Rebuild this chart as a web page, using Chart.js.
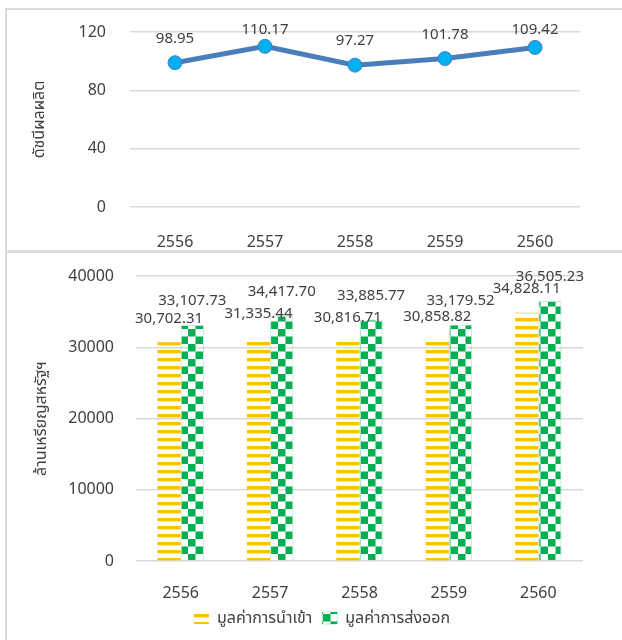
<!DOCTYPE html>
<html>
<head>
<meta charset="utf-8">
<script src="https://cdn.jsdelivr.net/npm/chart.js@4.4.1/dist/chart.umd.min.js"></script>
<style>
  html,body{margin:0;padding:0;background:#fff;width:622px;height:640px;overflow:hidden;}
  .frame{position:absolute;left:5px;top:8px;width:640px;height:660px;border-left:2px solid #d9d9d9;border-top:2px solid #d9d9d9;}
  .sep{position:absolute;left:5px;top:250px;width:640px;height:3px;background:#dcdcdc;}
  .box{position:absolute;left:8px;width:614px;}
  #top{top:10px;height:240px;}
  #bot{top:254px;height:386px;}
</style>
</head>
<body>
<div class="frame"></div>
<div class="sep"></div>
<div class="box" id="top"><canvas id="c1"></canvas></div>
<div class="box" id="bot"><canvas id="c2"></canvas></div>
<script>
const years = ['2556','2557','2558','2559','2560'];
const indexValues = [98.95, 110.17, 97.27, 101.78, 109.42];
const indexTicks = [0, 40, 80, 120];
const importValues = [30702.31, 31335.44, 30816.71, 30858.82, 34828.11];
const exportValues = [33107.73, 34417.70, 33885.77, 33179.52, 36505.23];
const tradeTicks = [0, 10000, 20000, 30000, 40000];

const FONT = "'Noto Sans', 'Noto Sans Thai', Tahoma, sans-serif";
const GRID = '#d9d9d9';
const TXT = '#404040';
const CLEAR = 'rgba(0,0,0,0)';

function stripes(){
  const c = document.createElement('canvas');
  c.width = 8; c.height = 8;
  const g = c.getContext('2d');
  g.fillStyle = '#FFC000';
  g.fillRect(0, 0, 8, 3);
  g.fillStyle = 'rgba(255,192,0,0.35)';
  g.fillRect(0, 3, 8, 1);
  return g.createPattern(c, 'repeat');
}
function checker(){
  const c = document.createElement('canvas');
  c.width = 15; c.height = 15;
  const g = c.getContext('2d');
  g.fillStyle = '#00B050';
  g.fillRect(0, 0, 7.5, 7.5);
  g.fillRect(7.5, 7.5, 7.5, 7.5);
  return g.createPattern(c, 'repeat');
}

// value labels above points / bars (kept inside the panel like Excel does)
const valueLabels = {
  id:'valueLabels',
  afterDatasetsDraw(chart, args, opts){
    const ctx = chart.ctx;
    ctx.save();
    ctx.font = '15px ' + FONT;
    ctx.fillStyle = TXT;
    ctx.textAlign = 'center';
    ctx.textBaseline = 'middle';
    chart.data.datasets.forEach((ds, i)=>{
      chart.getDatasetMeta(i).data.forEach((el, j)=>{
        const y = Math.max(opts.minY || 0, el.y - opts.offset);
        ctx.fillText(opts.fmt(ds.data[j]), el.x, y);
      });
    });
    ctx.restore();
  }
};

const tickFont = {family: FONT, size: 16};

new Chart(document.getElementById('c1'), {
  type:'line',
  data:{ labels: years, datasets:[{
    label:'ดัชนีผลผลิต',
    data: indexValues,
    borderColor:'#4A7EBB',
    borderWidth:5,
    pointRadius:7,
    pointBackgroundColor:'#00B0F0',
    pointBorderColor:'#4A7EBB',
    pointBorderWidth:1,
    tension:0
  }]},
  options:{
    responsive:true, maintainAspectRatio:false, animation:false,
    layout:{ padding:{top:22, right:42, left:0, bottom:0} },
    plugins:{ legend:{display:false}, tooltip:{enabled:false},
      valueLabels:{ offset:24, minY:20, fmt:v=>v.toFixed(2) } },
    scales:{
      x:{ offset:true, grid:{display:false}, border:{display:false},
          ticks:{ font:tickFont, color:TXT, padding:18 },
          afterFit(s){ s.height = 43; } },
      y:{ min:0, max:120, border:{display:false},
          afterBuildTicks(s){ s.ticks = indexTicks.map(v=>({value:v})); },
          grid:{ color:GRID, lineWidth:1.5, tickLength:24, tickColor:CLEAR },
          ticks:{ font:tickFont, color:TXT, padding:0 },
          title:{ display:true, text:'ดัชนีผลผลิต', font:tickFont, color:TXT, padding:{top:22, bottom:0} },
          afterFit(s){ s.width = 122; } }
    }
  },
  plugins:[valueLabels]
});

new Chart(document.getElementById('c2'), {
  type:'bar',
  data:{ labels: years, datasets:[
    { label:'มูลค่าการนำเข้า', data: importValues, backgroundColor: stripes(), borderWidth:0 },
    { label:'มูลค่าการส่งออก', data: exportValues, backgroundColor: checker(), borderColor:'rgba(0,176,80,0.25)', borderWidth:1 }
  ]},
  options:{
    responsive:true, maintainAspectRatio:false, animation:false,
    layout:{ padding:{top:22, right:0, left:14, bottom:4} },
    datasets:{ bar:{ barPercentage:1, categoryPercentage:0.52 } },
    plugins:{
      legend:{ position:'bottom', labels:{ font:tickFont, color:TXT, boxWidth:15, boxHeight:12, padding:10 } },
      tooltip:{enabled:false},
      valueLabels:{ offset:24, fmt:v=>v.toLocaleString('en-US',{minimumFractionDigits:2, maximumFractionDigits:2}) }
    },
    scales:{
      x:{ grid:{display:false}, border:{display:false},
          ticks:{ font:tickFont, color:TXT, padding:15 },
          afterFit(s){ s.height = 39; } },
      y:{ min:0, max:40000, border:{display:false},
          afterBuildTicks(s){ s.ticks = tradeTicks.map(v=>({value:v})); },
          grid:{ color:GRID, lineWidth:1.5, tickLength:22, tickColor:CLEAR },
          ticks:{ font:tickFont, color:TXT, padding:0, callback:v=>String(v) },
          title:{ display:true, text:'ล้านเหรียญสหรัฐฯ', font:tickFont, color:TXT, padding:{top:10, bottom:0} },
          afterFit(s){ s.width = 114; } },
      // empty right-hand spacer so the legend stays centred on the panel
      yr:{ position:'right', min:0, max:1, display:true,
           grid:{display:false}, border:{display:false}, ticks:{display:false},
           afterFit(s){ s.width = 39; } }
    }
  },
  plugins:[valueLabels]
});
</script>
</body>
</html>
